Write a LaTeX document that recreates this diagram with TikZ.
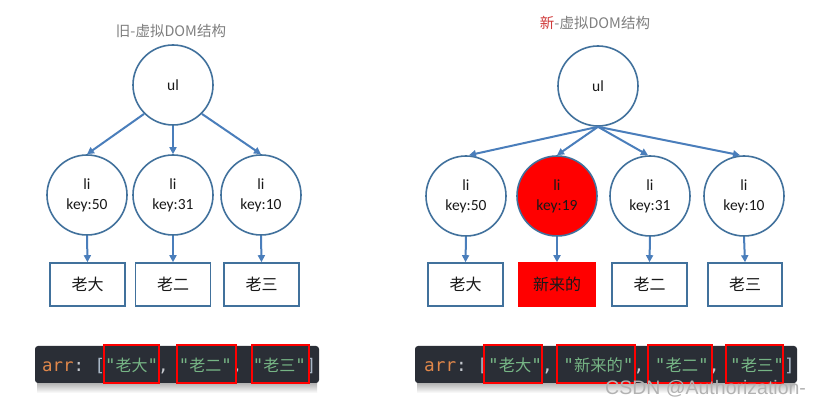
\documentclass[tikz,border=0pt]{standalone}
\usepackage{fontspec}
\setmainfont{Carlito}
\newfontfamily\cjk{Noto Sans CJK SC}
\newfontfamily\monof{DejaVu Sans Mono}
\newfontfamily\wmfont{Liberation Sans}
\usetikzlibrary{arrows.meta,shapes.geometric}
\frenchspacing
\definecolor{circborder}{HTML}{41719C}
\definecolor{arrowblue}{HTML}{4A7EBB}
\definecolor{titlegray}{HTML}{7F7F7F}
\definecolor{titlered}{HTML}{D03A3A}
\definecolor{codebg}{HTML}{2A2E36}
\definecolor{codeorange}{HTML}{E0874A}
\definecolor{codegreen}{HTML}{76B585}
\definecolor{codepunct}{HTML}{C4C8CE}
\definecolor{codebrk}{HTML}{A9B7C6}
\newcommand\cjc[2]{{\cjk\fontsize{#1}{20}\selectfont #2}}
\tikzset{
  circnode/.style={circle, draw=circborder, line width=1.6pt, minimum size=80pt, inner sep=0pt,
     align=center, font=\fontsize{15.5}{20}\selectfont, text=black!90},
  boxnode/.style={rectangle, draw=circborder, line width=1.6pt, minimum width=75pt, minimum height=43pt,
     inner sep=0pt, font=\cjk\fontsize{16}{20}\selectfont, text=black!90},
  conn/.style={draw=arrowblue, line width=2pt, -{Triangle[length=7pt,width=7pt]}},
  redbox/.style={rectangle, draw=red, line width=2pt, inner sep=0pt},
  codebar/.style={rectangle, fill=codebg, rounded corners=3pt, inner sep=0pt},
  titlenode/.style={font=\cjk\fontsize{14.5}{17}\selectfont, text=titlegray, inner sep=0pt}
}
\begin{document}
\begin{tikzpicture}[x=1pt,y=-1pt]
\useasboundingbox (0,0) rectangle (823,406);
\fill[white] (0,0) rectangle (823,406);

% ---------- left: old tree ----------
\node[titlenode] (tL) at (171,31) {旧-虚拟DOM结构};
\node[circnode] (ulL) at (173,85) {ul};
\node[circnode] (l1) at (87,195) {li\\key:50};
\node[circnode] (l2) at (173,195) {li\\key:31};
\node[circnode] (l3) at (261,195) {li\\key:10};
\node[boxnode] (b1) at (87.5,284.5) {老大};
\node[boxnode] (b2) at (173,284.5) {老二};
\node[boxnode] (b3) at (261.5,284.5) {老三};
\draw[conn] (ulL.south west) -- (l1.north);
\draw[conn] (ulL.south) -- (l2.north);
\draw[conn] (ulL.south east) -- (l3.north);
\draw[conn] (l1.south) -- (b1.north);
\draw[conn] (l2.south) -- (b2.north);
\draw[conn] (l3.south) -- (b3.north);

% ---------- right: new tree ----------
\node[titlenode] (tR) at (595,23) {\textcolor{titlered}{新}-虚拟DOM结构};
\node[circnode] (ulR) at (598,86) {ul};
\node[circnode] (r1) at (466,196) {li\\key:50};
\node[circnode, fill=red] (r2) at (557,196) {li\\key:19};
\node[circnode] (r3) at (650,196) {li\\key:31};
\node[circnode] (r4) at (744,196) {li\\key:10};
\node[boxnode] (c1) at (465.5,284.5) {老大};
\node[boxnode, draw=red, fill=red, minimum width=76pt] (c2) at (557,284.5) {新来的};
\node[boxnode] (c3) at (649.5,284.5) {老二};
\node[boxnode, minimum width=74pt] (c4) at (745,284.5) {老三};
\coordinate (hub) at (ulR.south);
\draw[conn] (hub) -- ([xshift=3pt]r1.north);
\draw[conn] (hub) -- (r2.north);
\draw[conn] (hub) -- ([xshift=-2pt]r3.north);
\draw[conn] (hub) -- ([xshift=-4pt]r4.north);
\draw[conn] (r1.south) -- (c1.north);
\draw[conn] (r2.south) -- (c2.north);
\draw[conn] (r3.south) -- (c3.north);
\draw[conn] (r4.south) -- (c4.north);

% ---------- code bars ----------
\shade[top color=black!30, bottom color=white] (37,383) rectangle (317,393);
\shade[top color=black!30, bottom color=white] (417,383) rectangle (795,393);
\node[codebar, minimum width=284pt, minimum height=37pt] (barL) at (177,364.5) {};
\node[codebar, minimum width=382pt, minimum height=37pt] (barR) at (606,364.5) {};

\node[anchor=base west, inner sep=0pt, font=\monof\fontsize{17.4}{20}\selectfont] (codeL) at (42,372)
 {\textcolor{codeorange}{arr}\textcolor{codepunct}{:} \textcolor{codebrk}{[}\textcolor{codegreen}{"\cjc{16}{老大}"}\textcolor{codepunct}{,} \textcolor{codegreen}{"\cjc{16}{老二}"}\textcolor{codepunct}{,} \textcolor{codegreen}{"\cjc{16}{老三}"}\textcolor{codebrk}{]}};
\node[anchor=base west, inner sep=0pt, font=\monof\fontsize{17.7}{20}\selectfont] (codeR) at (424,372)
 {\textcolor{codeorange}{arr}\textcolor{codepunct}{:} \textcolor{codebrk}{[}\textcolor{codegreen}{"\cjc{16.3}{老大}"}\textcolor{codepunct}{,} \textcolor{codegreen}{"\cjc{16.3}{新来的}"}\textcolor{codepunct}{,} \textcolor{codegreen}{"\cjc{16.3}{老二}"}\textcolor{codepunct}{,} \textcolor{codegreen}{"\cjc{16.3}{老三}"}\textcolor{codebrk}{]}};

\node[redbox, minimum width=55pt, minimum height=38pt] (hL1) at (131.5,364) {};
\node[redbox, minimum width=59pt, minimum height=38pt] (hL2) at (206.5,364) {};
\node[redbox, minimum width=57pt, minimum height=38pt] (hL3) at (280.5,364) {};
\node[redbox, minimum width=58pt, minimum height=38pt] (hR1) at (513,364) {};
\node[redbox, minimum width=78pt, minimum height=38pt] (hR2) at (596,364) {};
\node[redbox, minimum width=64pt, minimum height=38pt] (hR3) at (680,364) {};
\node[redbox, minimum width=57pt, minimum height=38pt] (hR4) at (754.5,364) {};

% ---------- watermark ----------
\node[anchor=base west, inner sep=0pt, font=\wmfont\fontsize{19.5}{22}\selectfont, text=black!30] (wm) at (605,395) {CSDN @Authorization-};
\end{tikzpicture}
\end{document}
